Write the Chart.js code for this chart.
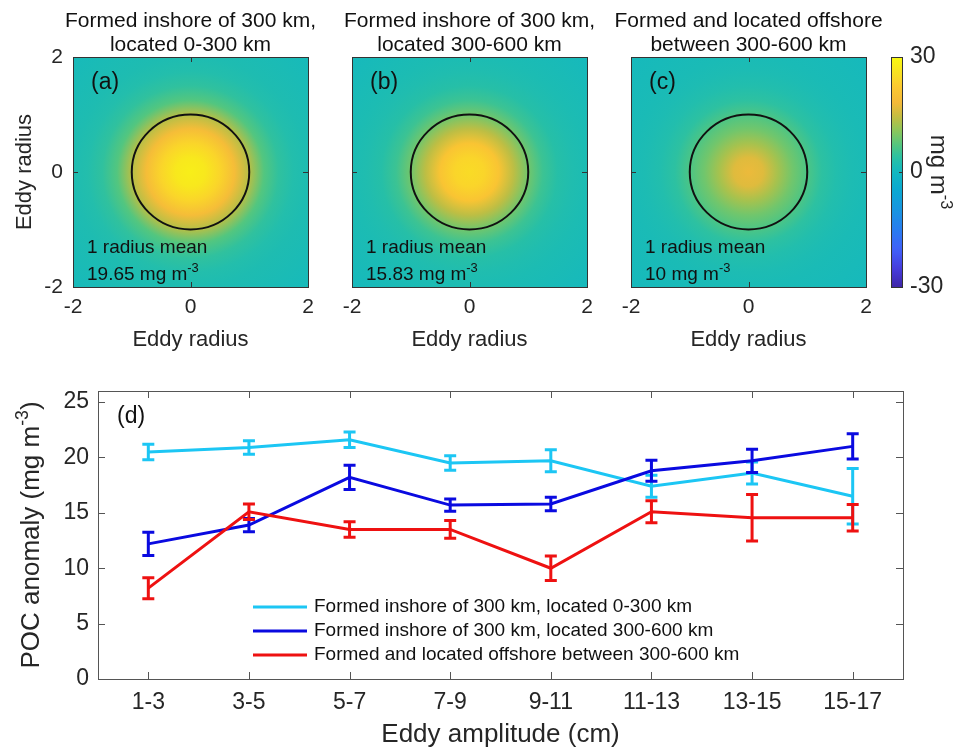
<!DOCTYPE html>
<html>
<head>
<meta charset="utf-8">
<title>POC anomaly in eddies</title>
<script src="https://cdn.jsdelivr.net/npm/chart.js@4.4.1/dist/chart.umd.min.js"></script>
<style>
  body { margin: 0; background: #fff; }
  #figure { position: relative; width: 955px; height: 751px; overflow: hidden; }
  #figure canvas { position: absolute; }
</style>
</head>
<body>
<div id="figure">
  <canvas id="panelA" width="330" height="360" style="left:0;top:0"></canvas>
  <canvas id="panelB" width="280" height="360" style="left:330px;top:0"></canvas>
  <canvas id="panelC" width="345" height="360" style="left:610px;top:0"></canvas>
  <canvas id="colorbar" width="75" height="360" style="left:880px;top:0"></canvas>
  <canvas id="panelD" width="955" height="391" style="left:0;top:360px"></canvas>
</div>
<script>
// composite POC anomaly (mg m^-3) against distance from the eddy centre (eddy radii)
const radiusSteps = [0, 0.25, 0.5, 0.75, 1, 1.25, 1.5, 1.75, 2, 2.83];
const profileInshoreNear = [28, 27, 24, 19, 13.5, 7, 4.2, 2.7, 2, 0.8];
const profileInshoreFar = [25, 24, 21, 14, 9, 5.2, 3.3, 2.3, 1.7, 0.6];
const profileOffshore = [17.5, 16.5, 12.5, 9, 6.5, 4, 2.6, 1.8, 1.3, 0.6];
const radiusMeans = ['19.65', '15.83', '10'];
const panelTitles = [
  ['Formed inshore of 300 km,', 'located 0-300 km'],
  ['Formed inshore of 300 km,', 'located 300-600 km'],
  ['Formed and located offshore', 'between 300-600 km']
];
const panelLetters = ['(a)', '(b)', '(c)'];
const radiusTicks = [-2, 0, 2];
const colorbarTicks = [-30, 0, 30];

// mean POC anomaly per eddy amplitude class, with error bars
const amplitudeBins = ['1-3', '3-5', '5-7', '7-9', '9-11', '11-13', '13-15', '15-17'];
const pocInshoreNear = [20.5, 20.9, 21.6, 19.5, 19.7, 17.4, 18.6, 16.5];
const errInshoreNear = [0.7, 0.6, 0.7, 0.65, 1.0, 1.0, 1.0, 2.5];
const pocInshoreFar = [12.2, 13.9, 18.2, 15.7, 15.8, 18.8, 19.7, 21.0];
const errInshoreFar = [1.05, 0.6, 1.1, 0.55, 0.6, 0.95, 1.05, 1.15];
const pocOffshore = [8.2, 15.1, 13.5, 13.5, 10.0, 15.1, 14.55, 14.55];
const errOffshore = [0.95, 0.7, 0.7, 0.8, 1.1, 1.0, 2.1, 1.2];
const pocTicks = [0, 5, 10, 15, 20, 25];
const seriesNames = [
  'Formed inshore of 300 km, located 0-300 km',
  'Formed inshore of 300 km, located 300-600 km',
  'Formed and located offshore between 300-600 km'
];
const seriesColors = ['#1cc6f4', '#0a0ae0', '#ee1111'];

const FONT = '"Liberation Sans", Arial, Helvetica, sans-serif';
Chart.defaults.font.family = FONT;
Chart.defaults.color = '#262626';
Chart.defaults.animation = false;
Chart.defaults.responsive = false;
Chart.defaults.events = [];
Chart.defaults.plugins.legend.display = false;
Chart.defaults.plugins.tooltip.enabled = false;

// parula-like colormap
const parulaStops = [
  [0.00, 62, 38, 168], [0.08, 70, 60, 220], [0.16, 65, 95, 250],
  [0.25, 40, 125, 240], [0.33, 25, 148, 225], [0.42, 10, 168, 210],
  [0.50, 18, 184, 192], [0.56, 40, 192, 165], [0.62, 85, 198, 125],
  [0.68, 140, 198, 90], [0.74, 195, 189, 65], [0.80, 243, 185, 58],
  [0.87, 252, 200, 48], [0.93, 248, 225, 35], [1.00, 248, 250, 15]
];
function parula(t) {
  t = Math.min(1, Math.max(0, t));
  for (let i = 1; i < parulaStops.length; i++) {
    const b = parulaStops[i];
    if (t <= b[0]) {
      const a = parulaStops[i - 1];
      const f = (t - a[0]) / (b[0] - a[0]);
      const c = [1, 2, 3].map(k => Math.round(a[k] + f * (b[k] - a[k])));
      return `rgb(${c[0]},${c[1]},${c[2]})`;
    }
  }
  return 'rgb(248,250,15)';
}
const colorForValue = v => parula((v + 30) / 60);
const font = size => `${size}px ${FONT}`;

// text with a raised exponent, parts = [[text, isSuperscript], ...]
function drawRich(ctx, parts, x, y, size, align, color) {
  const sizeOf = sup => (sup ? size * 0.68 : size);
  let w = 0;
  parts.forEach(([t, sup]) => { ctx.font = font(sizeOf(sup)); w += ctx.measureText(t).width; });
  let cx = align === 'center' ? x - w / 2 : x;
  ctx.fillStyle = color;
  ctx.textAlign = 'left';
  ctx.textBaseline = 'alphabetic';
  parts.forEach(([t, sup]) => {
    ctx.font = font(sizeOf(sup));
    ctx.fillText(t, cx, sup ? y - size * 0.42 : y);
    cx += ctx.measureText(t).width;
  });
}

const eddyField = {
  id: 'eddyField',
  beforeDatasetsDraw(chart, args, opts) {
    const { ctx, chartArea: a, scales: { x, y } } = chart;
    const rMax = radiusSteps[radiusSteps.length - 1];
    const cx = x.getPixelForValue(0), cy = y.getPixelForValue(0);
    const rx = x.getPixelForValue(rMax) - cx;
    const ry = cy - y.getPixelForValue(rMax);
    const g = ctx.createRadialGradient(0, 0, 0, 0, 0, rx);
    radiusSteps.forEach((r, i) => g.addColorStop(r / rMax, colorForValue(opts.profile[i])));
    ctx.save();
    ctx.beginPath();
    ctx.rect(a.left, a.top, a.width, a.height);
    ctx.clip();
    ctx.translate(cx, cy);
    ctx.scale(1, ry / rx);
    ctx.fillStyle = g;
    ctx.fillRect(-2 * rx, -2 * rx, 4 * rx, 4 * rx);
    ctx.restore();

    // one eddy radius contour
    ctx.save();
    ctx.beginPath();
    ctx.ellipse(cx, cy, x.getPixelForValue(1) - cx, cy - y.getPixelForValue(1), 0, 0, 2 * Math.PI);
    ctx.lineWidth = 2;
    ctx.strokeStyle = '#111';
    ctx.stroke();
    ctx.restore();
  }
};

// axes box with inward ticks on all four sides
const matlabBox = {
  id: 'matlabBox',
  afterDatasetsDraw(chart, args, opts) {
    const { ctx, chartArea: a, scales: { x, y } } = chart;
    const len = opts.tickLength;
    ctx.save();
    ctx.strokeStyle = opts.color;
    ctx.lineWidth = 1;
    ctx.beginPath();
    x.ticks.forEach((t, i) => {
      const px = Math.round(x.getPixelForTick(i)) + 0.5;
      ctx.moveTo(px, a.bottom); ctx.lineTo(px, a.bottom - len);
      ctx.moveTo(px, a.top); ctx.lineTo(px, a.top + len);
    });
    y.ticks.forEach((t, i) => {
      const py = Math.round(y.getPixelForTick(i)) + 0.5;
      ctx.moveTo(a.left, py); ctx.lineTo(a.left + len, py);
      ctx.moveTo(a.right, py); ctx.lineTo(a.right - len, py);
    });
    ctx.stroke();
    ctx.strokeRect(Math.round(a.left) + 0.5, Math.round(a.top) + 0.5, Math.round(a.width), Math.round(a.height));
    ctx.restore();
  }
};

const panelText = {
  id: 'panelText',
  afterDraw(chart, args, opts) {
    const { ctx, chartArea: a } = chart;
    const mid = (a.left + a.right) / 2;
    ctx.save();
    ctx.fillStyle = '#111';
    ctx.textBaseline = 'middle';
    ctx.textAlign = 'center';
    ctx.font = font(21);
    ctx.fillText(opts.title[0], mid, a.top - 36);
    ctx.fillText(opts.title[1], mid, a.top - 12);
    ctx.textAlign = 'left';
    ctx.font = font(23);
    ctx.fillText(opts.letter, a.left + 18, a.top + 26);
    ctx.font = font(19);
    ctx.fillText('1 radius mean', a.left + 14, a.top + 191);
    drawRich(ctx, [[opts.mean + ' mg m', false], ['-3', true]], a.left + 14, a.top + 223, 19, 'left', '#111');
    ctx.restore();
  }
};

function eddyPanel(id, idx, profile, showY, padLeft, padRight) {
  const fixedTicks = s => { s.ticks = radiusTicks.map(v => ({ value: v })); };
  return new Chart(document.getElementById(id), {
    type: 'scatter',
    data: { datasets: [] },
    options: {
      layout: { padding: { left: padLeft, right: padRight, top: 57, bottom: 3 } },
      scales: {
        x: {
          type: 'linear', min: -2, max: 2,
          afterBuildTicks: fixedTicks,
          grid: { display: false, drawTicks: false },
          border: { display: false },
          ticks: { padding: 8, font: { size: 21 }, maxRotation: 0 },
          title: { display: true, text: 'Eddy radius', font: { size: 22 }, padding: { top: 0, bottom: 4 } },
          afterFit: s => { s.height = 70; }
        },
        y: {
          type: 'linear', min: -2, max: 2,
          afterBuildTicks: fixedTicks,
          grid: { display: false, drawTicks: false },
          border: { display: false },
          ticks: { display: showY, padding: 10, font: { size: 21 } },
          title: { display: showY, text: 'Eddy radius', font: { size: 22 }, padding: { top: 4, bottom: 0 } },
          afterFit: s => { s.width = showY ? 65 : 0; }
        }
      },
      plugins: {
        eddyField: { profile },
        matlabBox: { tickLength: 5, color: '#333' },
        panelText: { title: panelTitles[idx], letter: panelLetters[idx], mean: radiusMeans[idx] }
      }
    },
    plugins: [eddyField, matlabBox, panelText]
  });
}

eddyPanel('panelA', 0, profileInshoreNear, true, 8, 22);
eddyPanel('panelB', 1, profileInshoreFar, false, 22, 23);
eddyPanel('panelC', 2, profileOffshore, false, 21, 89);

const colorbarFill = {
  id: 'colorbarFill',
  afterDraw(chart) {
    const { ctx, chartArea: a, scales: { y } } = chart;
    const g = ctx.createLinearGradient(0, y.getPixelForValue(y.min), 0, y.getPixelForValue(y.max));
    for (let i = 0; i <= 40; i++) g.addColorStop(i / 40, parula(i / 40));
    ctx.save();
    ctx.fillStyle = g;
    ctx.fillRect(a.left, a.top, a.width, a.height);
    ctx.strokeStyle = '#333';
    ctx.lineWidth = 1;
    ctx.strokeRect(Math.round(a.left) + 0.5, Math.round(a.top) + 0.5, Math.round(a.width), Math.round(a.height));
    ctx.beginPath();
    y.ticks.forEach((t, i) => {
      const py = Math.round(y.getPixelForTick(i)) + 0.5;
      ctx.moveTo(a.right, py); ctx.lineTo(a.right - 3, py);
    });
    ctx.stroke();
    // units, reading top to bottom
    ctx.translate(58, (a.top + a.bottom) / 2);
    ctx.rotate(Math.PI / 2);
    drawRich(ctx, [['mg m', false], ['-3', true]], 0, 7, 24, 'center', '#262626');
    ctx.restore();
  }
};

new Chart(document.getElementById('colorbar'), {
  type: 'scatter',
  data: { datasets: [] },
  options: {
    layout: { padding: { left: 11, right: 3, top: 57, bottom: 73 } },
    scales: {
      x: { display: false, min: 0, max: 1 },
      y: {
        position: 'right', min: -30, max: 30,
        afterBuildTicks: s => { s.ticks = colorbarTicks.map(v => ({ value: v })); },
        grid: { display: false, drawTicks: false },
        border: { display: false },
        ticks: { padding: 8, font: { size: 23 } },
        afterFit: s => { s.width = 50; }
      }
    }
  },
  plugins: [colorbarFill]
});

const errorBars = {
  id: 'errorBars',
  afterDatasetDraw(chart, args, opts) {
    const ds = chart.data.datasets[args.index];
    const { ctx, scales: { y } } = chart;
    const c = opts.cap / 2;
    ctx.save();
    ctx.strokeStyle = ds.borderColor;
    ctx.lineWidth = opts.width;
    ctx.beginPath();
    args.meta.data.forEach((pt, i) => {
      const hi = y.getPixelForValue(ds.data[i] + ds.errors[i]);
      const lo = y.getPixelForValue(ds.data[i] - ds.errors[i]);
      ctx.moveTo(pt.x, hi); ctx.lineTo(pt.x, lo);
      ctx.moveTo(pt.x - c, hi); ctx.lineTo(pt.x + c, hi);
      ctx.moveTo(pt.x - c, lo); ctx.lineTo(pt.x + c, lo);
    });
    ctx.stroke();
    ctx.restore();
  }
};

const pocText = {
  id: 'pocText',
  afterDraw(chart) {
    const { ctx, chartArea: a } = chart;
    ctx.save();
    // legend, in series order
    ctx.lineWidth = 3;
    ctx.font = font(19);
    ctx.textBaseline = 'middle';
    ctx.textAlign = 'left';
    seriesNames.forEach((name, i) => {
      const yy = a.top + 216 + i * 24;
      ctx.strokeStyle = seriesColors[i];
      ctx.beginPath();
      ctx.moveTo(a.left + 155, yy); ctx.lineTo(a.left + 209, yy);
      ctx.stroke();
      ctx.fillStyle = '#111';
      ctx.fillText(name, a.left + 216, yy);
    });
    ctx.font = font(23);
    ctx.fillText('(d)', a.left + 19, a.top + 26);
    ctx.translate(30, (a.top + a.bottom) / 2);
    ctx.rotate(-Math.PI / 2);
    drawRich(ctx, [['POC anomaly (mg m', false], ['-3', true], [')', false]], 0, 9, 26, 'center', '#262626');
    ctx.restore();
  }
};

const pocSeries = [
  [pocInshoreNear, errInshoreNear, 2],
  [pocInshoreFar, errInshoreFar, 1],
  [pocOffshore, errOffshore, 0]
];

new Chart(document.getElementById('panelD'), {
  type: 'line',
  data: {
    labels: amplitudeBins,
    datasets: pocSeries.map(([vals, errs, order], i) => ({
      label: seriesNames[i],
      data: vals,
      errors: errs,
      borderColor: seriesColors[i],
      order
    }))
  },
  options: {
    layout: { padding: { left: 12, right: 52, top: 31, bottom: 1 } },
    elements: { line: { borderWidth: 3, tension: 0 }, point: { radius: 0 } },
    scales: {
      x: {
        type: 'category', offset: true,
        grid: { display: false, drawTicks: false },
        border: { display: false },
        ticks: { padding: 10, font: { size: 23 }, maxRotation: 0, autoSkip: false },
        title: { display: true, text: 'Eddy amplitude (cm)', font: { size: 26 }, padding: { top: 0, bottom: 0 } },
        afterFit: s => { s.height = 71; }
      },
      y: {
        min: 0, max: 26,
        afterBuildTicks: s => { s.ticks = pocTicks.map(v => ({ value: v })); },
        grid: { display: false, drawTicks: false },
        border: { display: false },
        ticks: { padding: 9, font: { size: 23 } },
        afterFit: s => { s.width = 86; }
      }
    },
    plugins: {
      errorBars: { width: 3, cap: 12 },
      matlabBox: { tickLength: 7, color: '#555' }
    }
  },
  plugins: [errorBars, matlabBox, pocText]
});
</script>
</body>
</html>
